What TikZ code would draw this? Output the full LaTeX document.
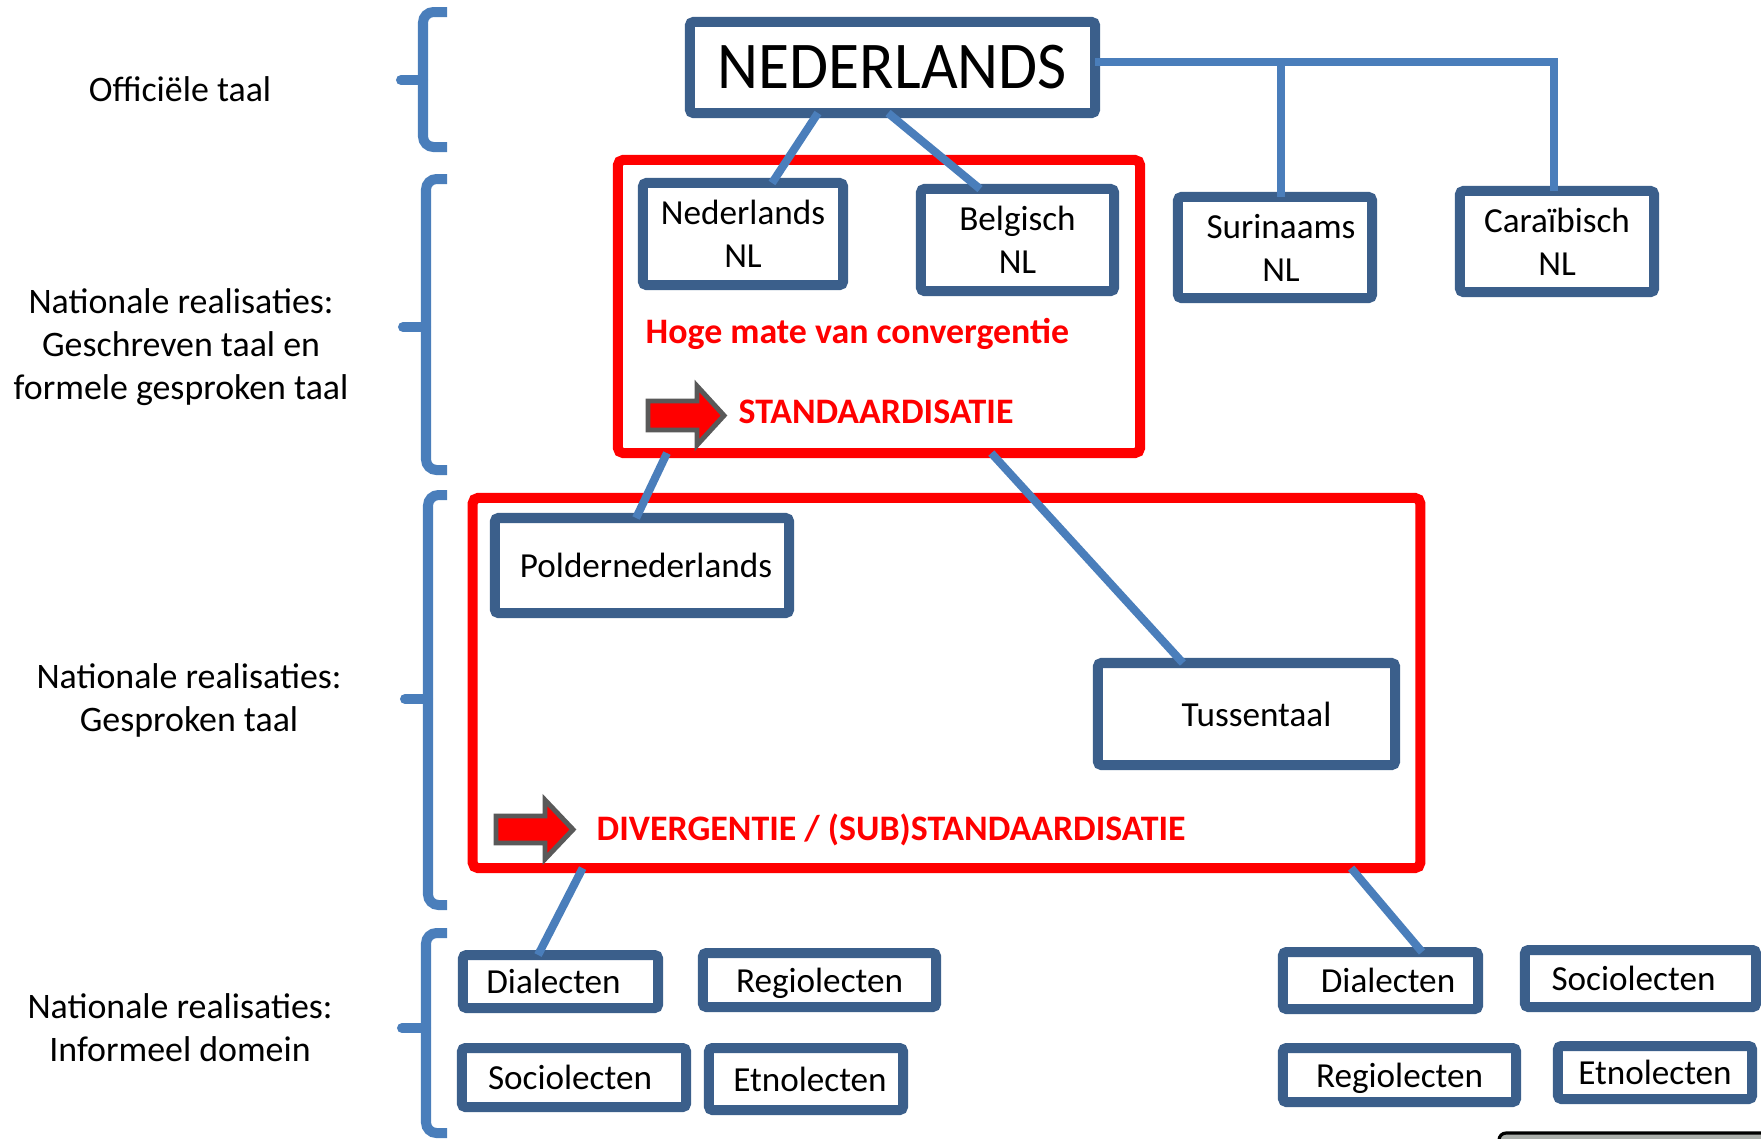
\documentclass[tikz,border=0pt]{standalone}
\usepackage{fontspec}
\setmainfont{Carlito}
\newfontfamily\titlefont[FakeStretch=0.95]{Carlito}
\usepackage{tikz}
\usetikzlibrary{calc}
\definecolor{boxblue}{RGB}{59, 95, 139}
\definecolor{lineblue}{RGB}{74, 126, 187}
\definecolor{framered}{RGB}{255, 0, 0}
\definecolor{arrowgray}{RGB}{89, 89, 89}
\definecolor{blockgray}{RGB}{170, 174, 170}

\begin{document}
\begin{tikzpicture}[x=0.01cm, y=-0.01cm,
    box/.style={draw=boxblue, line width=2.85pt, fill=white, rounded corners=1pt, inner sep=0pt, outer sep=0pt, align=center, font=\fontsize{10}{12.2}\selectfont},
    oneline/.style={box, text depth=0pt},
    redframe/.style={draw=framered, line width=2.85pt, rounded corners=1.5pt, inner sep=0pt, outer sep=0pt},
    conn/.style={draw=lineblue, line width=2.3pt},
    curly/.style={draw=lineblue, line width=2.85pt},
    redtext/.style={text=framered, inner sep=0pt, font=\fontsize{10.2}{12}\selectfont\bfseries},
    sidetext/.style={align=center, inner sep=0pt, font=\fontsize{10.2}{12.2}\selectfont},
    blockarrow/.style={draw=arrowgray, fill=framered, line width=1.4pt}]
    \useasboundingbox (0,0) rectangle (1761,1138);

    % levels on the left
    \node[sidetext] (lvl1) at (180,89) {Officiële taal};
    \node[sidetext] (lvl2) at (181,347) {Nationale realisaties:\\Geschreven taal en\\formele gesproken taal};
    \node[sidetext] (lvl3) at (189,700) {Nationale realisaties:\\Gesproken taal};
    \node[sidetext] (lvl4) at (180,1028) {Nationale realisaties:\\Informeel domein};

    \draw[curly, rounded corners=3pt] (447,12) -- (423,12) -- (423,147) -- (447,147);
    \draw[curly, line cap=round] (423,80) -- (401,80);
    \draw[curly, rounded corners=3pt] (447,179) -- (426,179) -- (426,470) -- (447,470);
    \draw[curly, line cap=round] (426,327) -- (403,327);
    \draw[curly, rounded corners=3pt] (447,495) -- (428,495) -- (428,905) -- (447,905);
    \draw[curly, line cap=round] (428,699) -- (405,699);
    \draw[curly, rounded corners=3pt] (447,933) -- (426,933) -- (426,1133) -- (447,1133);
    \draw[curly, line cap=round] (426,1028) -- (402,1028);

    % red frames
    \node[redframe, minimum width=5.22cm, minimum height=2.93cm] (conv) at (879,306.5) {};
    \node[redframe, minimum width=9.47cm, minimum height=3.70cm] (div) at (946.5,683) {};

    % boxes
    \node[box, font=\fontsize{19}{23}\titlefont, minimum width=4.05cm, minimum height=0.91cm] (ned) at (892.5,67.5) {NEDERLANDS};
    \node[box, minimum width=2.00cm, minimum height=1.02cm] (nlnl) at (743,234) {Nederlands\\NL};
    \node[box, minimum width=1.93cm, minimum height=1.02cm] (benl) at (1017.5,240) {Belgisch\\NL};
    \node[box, minimum width=1.94cm, minimum height=1.01cm] (sur) at (1275,247.5) {\hspace*{0.12cm}Surinaams\\\hspace*{0.12cm}NL};
    \node[box, minimum width=1.94cm, minimum height=1.01cm] (car) at (1557,241.5) {Caraïbisch\\NL};
    \node[oneline, minimum width=2.94cm, minimum height=0.95cm] (polder) at (642,565.5) {\hspace*{0.08cm}Poldernederlands};
    \node[oneline, minimum width=2.97cm, minimum height=1.02cm] (tus) at (1246.5,714) {\hspace*{0.2cm}Tussentaal};
    \node[oneline, minimum width=1.95cm, minimum height=0.53cm] (dia1) at (560.5,981.5) {Dialecten\hspace*{0.14cm}};
    \node[oneline, minimum width=2.33cm, minimum height=0.54cm] (reg1) at (819.5,980) {Regiolecten};
    \node[oneline, minimum width=2.24cm, minimum height=0.59cm] (soc1) at (574,1077.5) {Sociolecten\hspace*{0.08cm}};
    \node[oneline, minimum width=1.94cm, minimum height=0.62cm] (etn1) at (806,1079) {\hspace*{0.08cm}Etnolecten};
    \node[oneline, minimum width=1.95cm, minimum height=0.57cm] (dia2) at (1380.5,980.5) {\hspace*{0.15cm}Dialecten};
    \node[oneline, minimum width=2.31cm, minimum height=0.57cm] (soc2) at (1640.5,978.5) {Sociolecten\hspace*{0.14cm}};
    \node[oneline, minimum width=2.33cm, minimum height=0.54cm] (reg2) at (1399.5,1075) {Regiolecten};
    \node[oneline, minimum width=1.94cm, minimum height=0.53cm] (etn2) at (1655,1072.5) {Etnolecten};

    % connectors
    \coordinate (tee) at ([yshift=0.055cm]ned.east);
    \draw[conn] (tee) -| ([xshift=-0.03cm]car.north);
    \draw[conn] ([xshift=0.06cm]sur.north) -- ([xshift=0.06cm]sur.north |- tee);
    \draw[conn] ($(ned.south west)!0.316!(ned.south east)$) -- ($(nlnl.north west)!0.645!(nlnl.north east)$);
    \draw[conn] ($(ned.south west)!0.489!(ned.south east)$) -- ($(benl.north west)!0.306!(benl.north east)$);
    \draw[conn] ($(conv.south west)!0.094!(conv.south east)$) -- ($(polder.north west)!0.48!(polder.north east)$);
    \draw[conn] ($(conv.south west)!0.715!(conv.south east)$) -- ($(tus.north west)!0.286!(tus.north east)$);
    \draw[conn] ($(div.south west)!0.116!(div.south east)$) -- ($(dia1.north west)!0.385!(dia1.north east)$);
    \draw[conn] ($(div.south west)!0.927!(div.south east)$) -- ($(dia2.north west)!0.713!(dia2.north east)$);

    % red texts and arrows
    \node[redtext, anchor=base west] (convtext) at (645,343) {Hoge mate van convergentie};
    \node[redtext, anchor=base west] (stdtext) at (738,423) {STANDAARDISATIE};
    \node[redtext, anchor=base west] (divtext) at (596,840) {DIVERGENTIE / (SUB)STANDAARDISATIE};
    \draw[blockarrow] (648,401) -- (697,401) -- (697,386) -- (724,415.5) -- (697,445) -- (697,430) -- (648,430) -- cycle;
    \draw[blockarrow] (496,816) -- (545,816) -- (545,800) -- (573,829.5) -- (545,859) -- (545,843) -- (496,843) -- cycle;

    \draw[black, line width=0.9pt, fill=blockgray, rounded corners=2pt] (1499,1133) rectangle (1800,1250);
\end{tikzpicture}
\end{document}
